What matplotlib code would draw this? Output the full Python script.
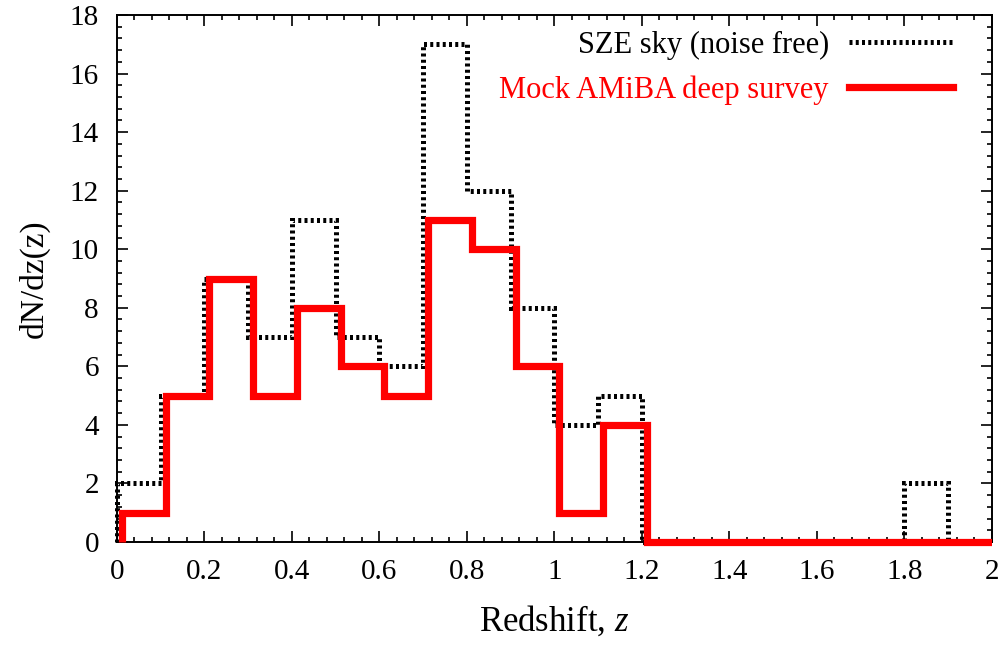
import matplotlib
matplotlib.use("Agg")
import matplotlib.pyplot as plt
import matplotlib.transforms as mtransforms
from matplotlib.ticker import MultipleLocator

plt.rcParams["font.family"] = ["Liberation Serif", "DejaVu Serif"]
plt.rcParams["mathtext.fontset"] = "custom"
plt.rcParams["mathtext.rm"] = "Liberation Serif"
plt.rcParams["mathtext.it"] = "Liberation Serif:italic"

# bin edges in redshift (width 0.1)
z_edges = [0.0, 0.1, 0.2, 0.3, 0.4, 0.5, 0.6, 0.7, 0.8, 0.9, 1.0,
           1.1, 1.2, 1.3, 1.4, 1.5, 1.6, 1.7, 1.8, 1.9, 2.0]

# counts per bin
sze_sky = [2, 5, 9, 7, 11, 7, 6, 17, 12, 8, 4, 5, 0, 0, 0, 0, 0, 0, 2, 0]
amiba_deep = [1, 5, 9, 5, 8, 6, 5, 11, 10, 6, 1, 4, 0, 0, 0, 0, 0, 0, 0, 0]

series_labels = ["SZE sky (noise free)", "Mock AMiBA deep survey"]

fig = plt.figure(figsize=(10.05, 6.45), dpi=100)
ax = fig.add_axes([0.1164, 0.1597, 0.8706, 0.8170])

# clip box that lets the lines show below the x axis but not past x = 2
clip = mtransforms.TransformedBbox(mtransforms.Bbox([[-0.01, -0.03], [1.0, 1.0]]),
                                   ax.transAxes)

black = ax.stairs(sze_sky, z_edges, baseline=0, fill=False, color="black",
                  linewidth=3.6, linestyle=(0, (0.6, 0.65)),
                  label=series_labels[0], zorder=3)
black.set_clip_box(clip)

# the red histogram is drawn slightly shifted to the right, as in the original
shift = mtransforms.offset_copy(ax.transData, fig=fig, x=5, y=0, units="dots")
red = ax.stairs(amiba_deep, z_edges, baseline=0, fill=False, color="#ff0000",
                linewidth=5.2, transform=shift, label=series_labels[1],
                zorder=4)
red.set_clip_box(clip)

ax.set_xlim(0, 2)
ax.set_ylim(0, 18)
ax.xaxis.set_major_locator(MultipleLocator(0.2))
ax.xaxis.set_minor_locator(MultipleLocator(0.04))
ax.yaxis.set_major_locator(MultipleLocator(2))
ax.yaxis.set_minor_locator(MultipleLocator(0.4))
ax.xaxis.set_major_formatter(plt.FuncFormatter(lambda v, p: f"{v:g}"))

ax.tick_params(which="both", direction="in", top=True, right=True,
               labelsize=21, width=1.2)
ax.tick_params(which="major", length=8, pad=12)
ax.tick_params(axis="y", which="major", pad=13)
ax.tick_params(which="minor", length=3.6)
for s in ax.spines.values():
    s.set_linewidth(1.4)

ax.set_xlabel("Redshift, $z$", fontsize=25, labelpad=14)
ax.set_ylabel("dN/dz(z)", fontsize=24, labelpad=14)

leg = ax.legend(loc="upper right", bbox_to_anchor=(0.955, 0.97),
                frameon=False, markerfirst=False, fontsize=22,
                handlelength=3.4, handletextpad=0.65, labelspacing=0.5,
                borderpad=0, borderaxespad=0)
leg.get_texts()[1].set_color("#ff0000")

fig.savefig("out.png", dpi=100)
